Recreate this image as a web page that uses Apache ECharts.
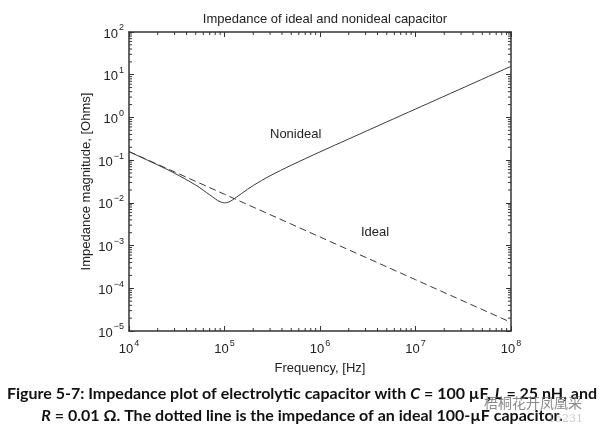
<!DOCTYPE html>
<html>
<head>
<meta charset="utf-8">
<script src="https://cdn.jsdelivr.net/npm/echarts@6/dist/echarts.min.js"></script>
<style>
html,body{margin:0;padding:0;background:#fff;}
#c{width:603px;height:432px;}
</style>
</head>
<body>
<div id="c"></div>
<script>
// Data
var freqNonideal = [1e4, 2e4, 3e4, 5e4, 7e4, 8e4, 9e4, 1e5, 1.1e5, 1.2e5, 1.5e5, 2e5, 3e5, 5e5, 1e6, 2e6, 5e6, 1e7, 1e8];
var zNonideal    = [0.158, 0.0771, 0.0494, 0.026, 0.0154, 0.0124, 0.0106, 0.0100, 0.0104, 0.0115, 0.0164, 0.0255, 0.043, 0.076, 0.156, 0.313, 0.785, 1.571, 15.7];
var freqIdeal = [1e4, 1e5, 1e6, 1e7, 1e8];
var zIdeal    = [0.159, 0.0159, 0.00159, 0.000159, 0.0000159];
var xTickExp = [4, 5, 6, 7, 8];
var yTickExp = [2, 1, 0, -1, -2, -3, -4, -5];

var titleText = 'Impedance of ideal and nonideal capacitor';
var xName = 'Frequency, [Hz]';
var yName = 'Impedance magnitude, [Ohms]';

function pairs(xs, ys){ return xs.map(function(x,i){ return [x, ys[i]]; }); }
function minorVals(lo, hi){
  var out = [];
  for (var d = lo; d < hi; d++) for (var k = 2; k <= 9; k++) out.push(k * Math.pow(10, d));
  return out;
}
function supLabel(v){
  var e = Math.round(Math.log10(v));
  var s = e < 0 ? '\u2212' + (-e) : '' + e;
  return '{a|10}{s|' + s + '}';
}
var richLbl = {
  a: {fontSize: 13, fontFamily: 'Liberation Sans', color: '#222', lineHeight: 17, verticalAlign: 'bottom'},
  s: {fontSize: 9, fontFamily: 'Liberation Sans', color: '#222', lineHeight: 17, verticalAlign: 'top', padding: [0,0,0,1]}
};

var chart = echarts.init(document.getElementById('c'));
var lineCol = '#3a3a3a';
var axisCommon = {
  type: 'log', logBase: 10, interval: 1,
  axisLine: {show: true, onZero: false, lineStyle: {color: '#333', width: 1.5}},
  axisTick: {show: true, inside: true, length: 5, lineStyle: {color: '#333'}},
  splitLine: {show: false}
};

var xMinor = minorVals(4, 8).map(function(v){ return [v, 1]; });
var yMinor = minorVals(-5, 2).map(function(v){ return [1e5, v]; });

chart.setOption({
  animation: false,
  backgroundColor: '#fff',
  title: {text: titleText, left: 320, top: 8, textAlign: 'center',
    textStyle: {fontFamily: 'Liberation Sans', fontSize: 13, fontWeight: 'normal', color: '#222'}},
  grid: {left: 129, right: 92, top: 32, bottom: 101},
  xAxis: [
    Object.assign({}, axisCommon, {min: 1e4, max: 1e8, position: 'bottom',
      name: xName, nameLocation: 'middle', nameGap: 31, nameMoveOverlap: false,
      nameTextStyle: {fontFamily: 'Liberation Sans', fontSize: 13, color: '#222'},
      axisLabel: {show: true, margin: 8, formatter: supLabel, rich: richLbl}}),
    Object.assign({}, axisCommon, {min: 1e4, max: 1e8, position: 'top', axisLabel: {show: false}})
  ],
  yAxis: [
    Object.assign({}, axisCommon, {min: 1e-5, max: 1e2, position: 'left',
      name: yName, nameLocation: 'middle', nameGap: 36, nameRotate: 90, nameMoveOverlap: false,
      nameTextStyle: {fontFamily: 'Liberation Sans', fontSize: 13, color: '#222'},
      axisLabel: {show: true, margin: 5, formatter: supLabel, rich: richLbl}}),
    Object.assign({}, axisCommon, {min: 1e-5, max: 1e2, position: 'right', axisLabel: {show: false}})
  ],
  series: [
    {type: 'line', name: 'Nonideal', data: pairs(freqNonideal, zNonideal), smooth: 0.3,
      showSymbol: false, lineStyle: {color: lineCol, width: 1}},
    {type: 'line', name: 'Ideal', data: pairs(freqIdeal, zIdeal),
      showSymbol: false, lineStyle: {color: lineCol, width: 1, type: [7, 4]}},
    {type: 'custom', clip: false, silent: true, data: xMinor,
      renderItem: function(params, api){
        var cs = params.coordSys;
        var x = api.coord([api.value(0), 1])[0];
        var b = cs.y + cs.height, t = cs.y;
        return {type: 'group', children: [
          {type: 'line', shape: {x1: x, y1: b, x2: x, y2: b - 3}, style: {stroke: '#333', lineWidth: 1}},
          {type: 'line', shape: {x1: x, y1: t, x2: x, y2: t + 3}, style: {stroke: '#333', lineWidth: 1}}
        ]};
      }},
    {type: 'custom', clip: false, silent: true, data: yMinor,
      renderItem: function(params, api){
        var cs = params.coordSys;
        var y = api.coord([1e5, api.value(1)])[1];
        var l = cs.x, r = cs.x + cs.width;
        return {type: 'group', children: [
          {type: 'line', shape: {x1: l, y1: y, x2: l + 3, y2: y}, style: {stroke: '#333', lineWidth: 1}},
          {type: 'line', shape: {x1: r, y1: y, x2: r - 3, y2: y}, style: {stroke: '#333', lineWidth: 1}}
        ]};
      }}
  ],
  graphic: [
    {type: 'text', left: 270, top: 128, style: {text: 'Nonideal', font: '13px "Liberation Sans"', fill: '#222'}},
    {type: 'text', left: 361, top: 226, style: {text: 'Ideal', font: '13px "Liberation Sans"', fill: '#222'}},
    {type: 'text', x: 302, y: 383, style: {
      text: '{b|Figure 5-7: Impedance plot of electrolytic capacitor with }{i|C}{b| = 100 \u00b5F, }{i|L}{b| = 25 nH, and}\n{i|R}{b| = 0.01 \u03a9. The dotted line is the impedance of an ideal 100-\u00b5F capacitor.}',
      align: 'center',
      rich: {
        b: {font: 'bold 16px Lato', fill: '#111', lineHeight: 22},
        i: {font: 'italic bold 16px Lato', fill: '#111', lineHeight: 22}
      }}},
    {type: 'text', x: 484, y: 396, style: {text: '梧桐花开凤凰采', font: '14px "Noto Sans CJK SC"', fill: 'rgba(110,110,110,0.8)'}},
    {type: 'text', x: 548, y: 414, style: {text: '15231', font: '11px "DejaVu Serif"', fill: 'rgba(170,170,170,0.6)'}}
  ]
});
</script>
</body>
</html>
